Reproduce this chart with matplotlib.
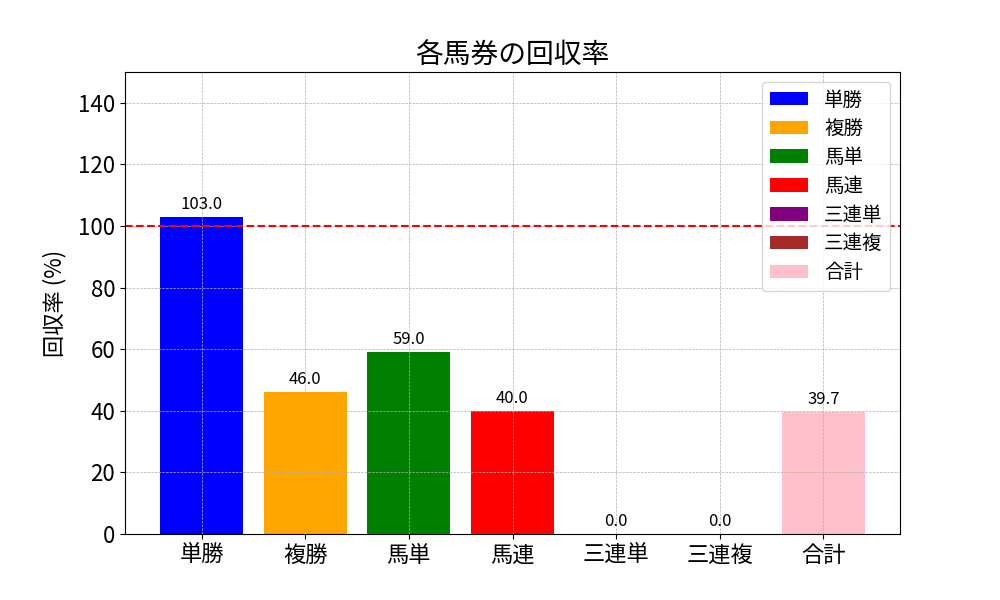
import matplotlib
matplotlib.use("Agg")
import matplotlib.pyplot as plt

# Japanese font with fallback
plt.rcParams["font.family"] = ["Noto Sans CJK JP", "DejaVu Sans"]

# Data
categories = ["単勝", "複勝", "馬単", "馬連", "三連単", "三連複", "合計"]
recovery_rates = [103.0, 46.0, 59.0, 40.0, 0.0, 0.0, 39.7]
bar_colors = ["blue", "orange", "green", "red", "purple", "brown", "pink"]

fig, ax = plt.subplots(figsize=(10, 6))

# One bar per ticket type so each gets its own legend entry
for i, (cat, val, col) in enumerate(zip(categories, recovery_rates, bar_colors)):
    bar = ax.bar(i, val, color=col, label=cat)
    ax.bar_label(bar, labels=[f"{val:.1f}"], padding=3, fontsize=12)

# Break-even line at 100%
ax.axhline(100, color="red", linestyle="--", linewidth=1.5)

ax.set_xticks(range(len(categories)))
ax.set_xticklabels(categories)
ax.set_ylim(0, 150)
ax.set_title("各馬券の回収率", fontsize=20)
ax.set_ylabel("回収率 (%)", fontsize=16, labelpad=8)
ax.tick_params(axis="both", labelsize=16)
ax.grid(True, linestyle="--", linewidth=0.5)
ax.legend(fontsize=14, loc="upper right", labelspacing=0.4)

plt.savefig("out.png", dpi=100)
plt.close()
